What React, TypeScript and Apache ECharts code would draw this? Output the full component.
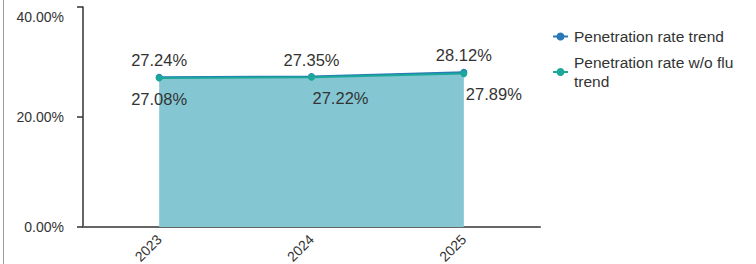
import React, { useEffect, useRef } from "react";
import * as echarts from "echarts";

const categories = ["2023", "2024", "2025"];
const seriesNames = ["Penetration rate trend", "Penetration rate w/o flu trend"];
const rateTrend = [27.24, 27.35, 28.12];
const rateWithoutFlu = [27.08, 27.22, 27.89];
const yTicks = { min: 0, max: 40, interval: 20 };

// label offsets (style only) for the lower series
const lowerLabelOffsets = [
  [0, 0],
  [29, 0],
  [30, -1],
];

const FONT = "'Liberation Sans', Arial, sans-serif";

export default function App() {
  const ref = useRef<HTMLDivElement>(null);
  useEffect(() => {
    document.body.style.margin = "0";
    const chart = echarts.init(ref.current!, null, { renderer: "svg" });
    chart.setOption({
      animation: false,
      textStyle: { fontFamily: FONT },
      graphic: [
        {
          type: "line",
          shape: { x1: 3.5, y1: 0, x2: 3.5, y2: 264 },
          style: { stroke: "#9a9a9a", lineWidth: 1 },
        },
      ],
      grid: {
        left: 83,
        right: 216,
        top: 7,
        bottom: 37,
        containLabel: false,
        outerBoundsMode: "none",
      },
      legend: {
        orient: "vertical",
        left: 547,
        top: 22,
        itemWidth: 15,
        itemHeight: 10,
        itemGap: 7,
        textStyle: {
          fontFamily: FONT,
          fontSize: 15.5,
          color: "#333",
          lineHeight: 19,
          width: 182,
          overflow: "break",
          padding: [0, 0, 0, 1],
        },
        data: seriesNames,
      },
      xAxis: {
        type: "category",
        data: categories,
        boundaryGap: true,
        axisLine: { lineStyle: { color: "#666", width: 2 } },
        axisTick: { show: false },
        axisLabel: {
          rotate: 45,
          fontFamily: FONT,
          fontSize: 14,
          color: "#333",
          margin: 10,
        },
      },
      yAxis: {
        type: "value",
        min: yTicks.min,
        max: yTicks.max,
        interval: yTicks.interval,
        splitLine: { show: false },
        axisLine: { show: true, lineStyle: { color: "#333", width: 1.5 } },
        axisTick: { show: true, length: 6, lineStyle: { color: "#333", width: 1.5 } },
        axisLabel: {
          fontFamily: FONT,
          fontSize: 14,
          color: "#333",
          margin: 19,
          formatter: (v: number) =>
            v === yTicks.max ? "{t|" + v.toFixed(2) + "%}" : v.toFixed(2) + "%",
          rich: {
            t: { fontFamily: FONT, fontSize: 14, color: "#333", padding: [20, 0, 0, 0] },
          },
        },
      },
      series: [
        {
          name: seriesNames[0],
          type: "line",
          data: rateTrend,
          color: "#2a78b5",
          symbol: "circle",
          symbolSize: 7,
          lineStyle: { width: 2, color: "#2a78b5" },
          itemStyle: { color: "#2a78b5" },
          areaStyle: { color: "#84c7d3", opacity: 1 },
          label: {
            show: true,
            position: "top",
            distance: 5,
            fontFamily: FONT,
            fontSize: 16.5,
            color: "#333",
            formatter: (p: any) => p.value.toFixed(2) + "%",
          },
          z: 2,
        },
        {
          name: seriesNames[1],
          type: "line",
          data: rateWithoutFlu.map((v, i) => ({
            value: v,
            label: { offset: lowerLabelOffsets[i] },
          })),
          color: "#1ba89b",
          symbol: "circle",
          symbolSize: 7,
          lineStyle: { width: 2, color: "#1ba89b" },
          itemStyle: { color: "#1ba89b" },
          label: {
            show: true,
            position: "bottom",
            distance: 9,
            fontFamily: FONT,
            fontSize: 16.5,
            color: "#333",
            formatter: (p: any) => p.value.toFixed(2) + "%",
          },
          z: 3,
        },
      ],
    });
    return () => chart.dispose();
  }, []);
  return <div ref={ref} style={{ width: 756, height: 264 }} />;
}
